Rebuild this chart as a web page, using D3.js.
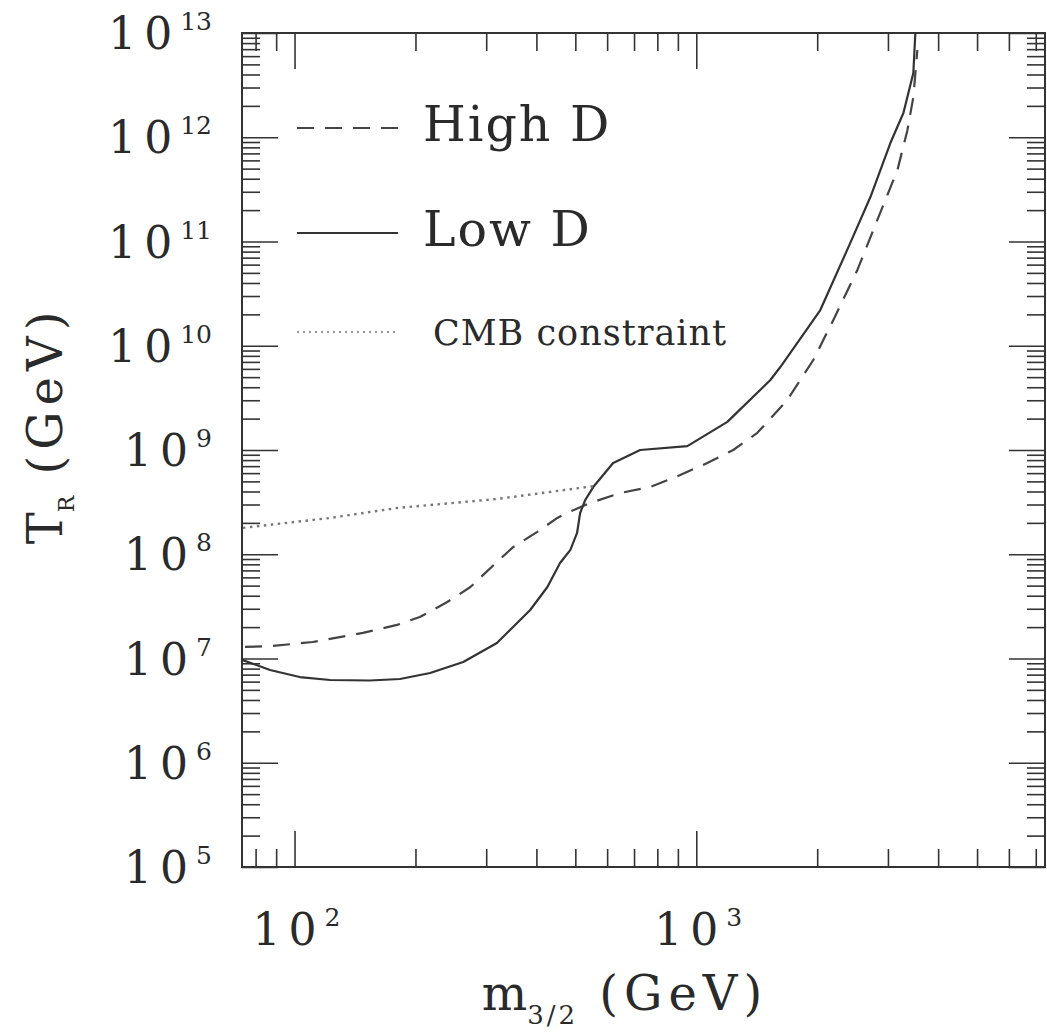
<!DOCTYPE html>
<html>
<head>
<meta charset="utf-8">
<script src="https://cdn.jsdelivr.net/npm/d3@7"></script>
<style>
  body { margin: 0; background: #fff; }
  svg { display: block; }
  text { fill: #2a2a2a; font-family: "DejaVu Serif", serif; }
</style>
</head>
<body>
<svg id="chart"></svg>
<script>
const width = 1047
const height = 1033

// gravitino mass (GeV) and reheating temperature bounds (GeV)
const lowD_m = [74, 86.9, 103, 122.6, 154, 183, 217.5, 263, 319, 386, 426, 458, 486, 505, 514, 529, 554, 621, 725, 950, 1195, 1529, 1619, 2036, 2418, 2713, 3042, 3278, 3470, 3510]
const lowD_T = [9.7e6, 7.76e6, 6.64e6, 6.22e6, 6.15e6, 6.36e6, 7.26e6, 9.25e6, 1.41e7, 2.92e7, 4.85e7, 8.24e7, 1.10e8, 1.60e8, 2.49e8, 3.31e8, 4.41e8, 7.5e8, 1.0e9, 1.09e9, 1.86e9, 4.69e9, 6.25e9, 2.2e10, 9.7e10, 2.67e11, 8.8e11, 1.71e12, 4.13e12, 1e13]

const highD_m = [75.3, 88.4, 111, 148, 180, 205, 240, 274, 319, 350, 402, 451, 477, 544, 647, 768, 912, 1065, 1236, 1419, 1683, 1956, 2194, 2518, 2823, 3168, 3354, 3470, 3551]
const highD_T = [1.29e7, 1.32e7, 1.44e7, 1.76e7, 2.10e7, 2.50e7, 3.48e7, 4.85e7, 8.43e7, 1.17e8, 1.64e8, 2.23e8, 2.49e8, 3.1e8, 3.87e8, 4.41e8, 5.75e8, 7.5e8, 1e9, 1.46e9, 3.0e9, 7.3e9, 1.77e10, 5.34e10, 1.61e11, 4.85e11, 1.17e12, 2.43e12, 6.87e12]

const cmb_m = [74.4, 122.6, 180, 319, 560]
const cmb_T = [1.79e8, 2.23e8, 2.78e8, 3.39e8, 4.52e8]

const xMajor = [100, 1000]
const xMinor = [80, 90, 200, 300, 400, 500, 600, 700, 800, 900, 2000, 3000, 4000, 5000, 6000, 7000]
const yExp = [5, 6, 7, 8, 9, 10, 11, 12, 13]

const legendLabels = ["High D", "Low D", "CMB constraint"]

const margin = {left: 242, right: 2, top: 33, bottom: 166}
const x = d3.scaleLog().domain([74, 7380]).range([margin.left, width - margin.right])
const y = d3.scaleLog().domain([1e5, 1e13]).range([height - margin.bottom, margin.top])

const svg = d3.select('#chart').attr('width', width).attr('height', height)

const x0 = x.range()[0], x1 = x.range()[1]
const y0 = y.range()[0], y1 = y.range()[1]

// ticks, all pointing inward
const yMajor = yExp.map(e => Math.pow(10, e))
const yMinor = y.ticks().filter(v => !yMajor.includes(v))

function tickGroup(axis, tx, ty) {
  const g = svg.append('g').attr('transform', `translate(${tx},${ty})`).call(axis)
  g.select('.domain').remove()
  g.selectAll('line').attr('stroke', '#333').attr('stroke-width', 1.6)
  g.selectAll('text').remove()
  return g
}
tickGroup(d3.axisBottom(x).tickValues(xMajor).tickSize(-36), 0, y0)
tickGroup(d3.axisBottom(x).tickValues(xMinor).tickSize(-18), 0, y0)
tickGroup(d3.axisTop(x).tickValues(xMajor).tickSize(-36), 0, y1)
tickGroup(d3.axisTop(x).tickValues(xMinor).tickSize(-18), 0, y1)
tickGroup(d3.axisLeft(y).tickValues(yMajor).tickSize(-36), x0, 0)
tickGroup(d3.axisLeft(y).tickValues(yMinor).tickSize(-18), x0, 0)
tickGroup(d3.axisRight(y).tickValues(yMajor).tickSize(-36), x1, 0)
tickGroup(d3.axisRight(y).tickValues(yMinor).tickSize(-18), x1, 0)

svg.append('rect')
  .attr('x', x0).attr('y', y1)
  .attr('width', x1 - x0).attr('height', y0 - y1)
  .attr('fill', 'none').attr('stroke', '#333').attr('stroke-width', 2)

// tick labels 10^n
svg.selectAll('.ylab')
  .data(yExp)
  .join('text')
  .classed('ylab', true)
  .attr('x', 212)
  .attr('y', d => y(Math.pow(10, d)) + 16)
  .attr('text-anchor', 'end')
  .style('font-size', '44px')
  .each(function(d) {
    const t = d3.select(this)
    t.append('tspan').text('10').style('letter-spacing', '8px')
    t.append('tspan').text(d).style('font-size', '25px').attr('dy', -19)
  })

svg.selectAll('.xlab')
  .data(xMajor)
  .join('text')
  .classed('xlab', true)
  .attr('x', d => x(d) + 2)
  .attr('y', 945)
  .attr('text-anchor', 'middle')
  .style('font-size', '44px')
  .each(function(d) {
    const t = d3.select(this)
    t.append('tspan').text('10').style('letter-spacing', '8px')
    t.append('tspan').text(Math.round(Math.log10(d))).style('font-size', '25px').attr('dy', -19)
  })

// axis titles
const xt = svg.append('text')
  .attr('x', 625).attr('y', 1010)
  .attr('text-anchor', 'middle')
  .style('font-size', '48px')
xt.append('tspan').text('m')
xt.append('tspan').text('3/2').style('font-size', '26px').attr('dy', 14).style('letter-spacing', '3px')
xt.append('tspan').text(' (GeV)').attr('dy', -14).style('letter-spacing', '6px')

const yt = svg.append('text')
  .attr('transform', 'translate(62,425) rotate(-90)')
  .attr('text-anchor', 'middle')
  .style('font-size', '48px')
yt.append('tspan').text('T')
yt.append('tspan').text('R').style('font-size', '22px').attr('dy', 12)
yt.append('tspan').text(' (GeV)').attr('dy', -12).style('letter-spacing', '6px')

// curves
const line = d3.line().x(d => x(d[0])).y(d => y(d[1]))
const styles = [
  {dash: '17,11', width: 2.2, color: '#444'},
  {dash: null, width: 2.2, color: '#333'},
  {dash: '2.5,4.5', width: 2.4, color: '#777'}
]
const series = [
  d3.zip(highD_m, highD_T),
  d3.zip(lowD_m, lowD_T),
  d3.zip(cmb_m, cmb_T)
]

svg.append('g')
  .selectAll('path')
  .data(series)
  .join('path')
  .attr('d', line)
  .attr('fill', 'none')
  .attr('stroke', (d, i) => styles[i].color)
  .attr('stroke-width', (d, i) => styles[i].width)
  .attr('stroke-linejoin', 'round')
  .attr('stroke-dasharray', (d, i) => styles[i].dash)

// legend
const legY = [128, 233, 332]
const leg = svg.append('g')
  .selectAll('g')
  .data(legendLabels)
  .join('g')
  .attr('transform', (d, i) => `translate(0,${legY[i]})`)
leg.append('line')
  .attr('x1', 297).attr('x2', 398)
  .attr('stroke', (d, i) => styles[i].color)
  .attr('stroke-width', (d, i) => i == 2 ? 1.6 : 2)
  .attr('stroke-dasharray', (d, i) => i == 2 ? '2,4' : styles[i].dash)
leg.append('text')
  .attr('x', (d, i) => i == 2 ? 433 : 423)
  .attr('y', 13)
  .style('font-size', (d, i) => i == 2 ? '35px' : '49px')
  .style('letter-spacing', (d, i) => i == 2 ? '1px' : '2px')
  .text(d => d)
</script>
</body>
</html>
